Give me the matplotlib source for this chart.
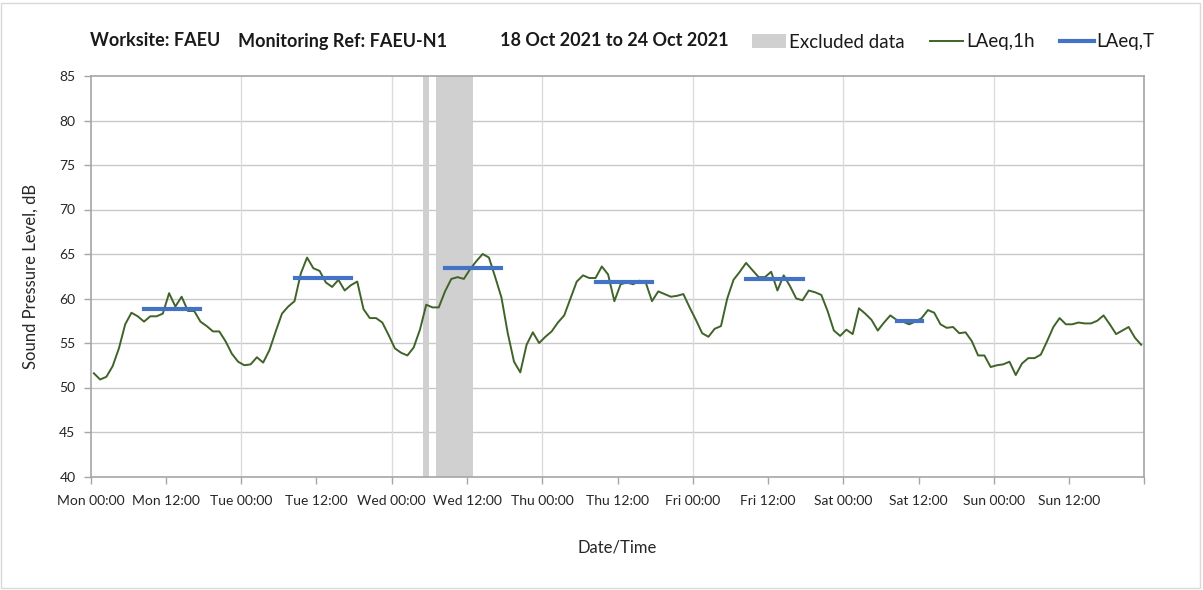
import matplotlib
matplotlib.use("Agg")
import matplotlib.pyplot as plt
from matplotlib.patches import Patch, Rectangle
from matplotlib.lines import Line2D
import numpy as np

plt.rcParams['font.family'] = ['Lato', 'DejaVu Sans']

# ---------------- data ----------------
title_parts = ["Worksite: FAEU", "Monitoring Ref: FAEU-N1", "18 Oct 2021 to 24 Oct 2021"]

# hourly LAeq,1h values, Mon 00:00 .. Sun 23:00
laeq_1h = [
    51.6, 50.9, 51.2, 52.4, 54.4, 57.1, 58.4, 58.0, 57.4, 58.0, 58.0, 58.3,
    60.6, 59.1, 60.2, 58.6, 58.6, 57.4, 56.9, 56.3, 56.3, 55.2, 53.8, 52.9,
    52.5, 52.6, 53.4, 52.8, 54.2, 56.3, 58.3, 59.1, 59.7, 62.8, 64.6, 63.4,
    63.1, 61.8, 61.3, 62.1, 60.9, 61.5, 61.9, 58.8, 57.8, 57.8, 57.3, 55.9,
    54.4, 53.9, 53.6, 54.5, 56.5, 59.3, 59.0, 59.0, 60.8, 62.2, 62.4, 62.2,
    63.3, 64.2, 65.0, 64.6, 62.4, 60.1, 56.1, 52.9, 51.7, 54.8, 56.2, 55.0,
    55.7, 56.3, 57.3, 58.1, 60.0, 61.9, 62.6, 62.3, 62.3, 63.6, 62.7, 59.7,
    61.6, 61.8, 61.6, 62.0, 61.8, 59.7, 60.8, 60.5, 60.2, 60.3, 60.5, 59.0,
    57.6, 56.1, 55.7, 56.6, 56.9, 60.0, 62.1, 63.0, 64.0, 63.2, 62.4, 62.4,
    63.0, 60.9, 62.6, 61.4, 60.0, 59.8, 60.9, 60.7, 60.4, 58.6, 56.4, 55.8,
    56.5, 56.0, 58.9, 58.3, 57.6, 56.4, 57.3, 58.1, 57.6, 57.4, 57.1, 57.4,
    57.8, 58.7, 58.4, 57.1, 56.7, 56.8, 56.1, 56.2, 55.2, 53.6, 53.6, 52.3,
    52.5, 52.6, 52.9, 51.4, 52.7, 53.3, 53.3, 53.7, 55.2, 56.8, 57.8, 57.1,
    57.1, 57.3, 57.2, 57.2, 57.5, 58.1, 57.1, 56.0, 56.4, 56.8, 55.6, 54.8,
]
hours = np.arange(len(laeq_1h))

# LAeq,T periods (first and last hourly interval in each period)
laeqT_start = [8, 32, 56, 80, 104, 128]
laeqT_end = [17, 41, 65, 89, 113, 132]
laeqT_value = [58.8, 62.3, 63.4, 61.8, 62.2, 57.5]

# excluded data periods (hours from Mon 00:00)
excluded_start = [53, 55]
excluded_end = [54, 61]

tick_hours = list(range(0, 169, 12))
tick_labels = ["Mon 00:00", "Mon 12:00", "Tue 00:00", "Tue 12:00", "Wed 00:00",
               "Wed 12:00", "Thu 00:00", "Thu 12:00", "Fri 00:00", "Fri 12:00",
               "Sat 00:00", "Sat 12:00", "Sun 00:00", "Sun 12:00", ""]

# ---------------- figure ----------------
W, H = 1203, 590
fig = plt.figure(figsize=(W / 100, H / 100), dpi=100)
ax = fig.add_axes([90.7 / W, 1 - 476.5 / H, (1144.3 - 90.7) / W, (476.5 - 76) / H])

green = '#3f6328'
blue = '#4472c4'
band = '#d0d0d0'
offset = 0.5

for s, e in zip(excluded_start, excluded_end):
    ax.axvspan(s, e, color=band, lw=0, zorder=1)

ax.plot(hours + offset, laeq_1h, color=green, lw=1.4, zorder=3)
for s, e, v in zip(laeqT_start, laeqT_end, laeqT_value):
    ax.plot([s + offset, e + offset], [v, v], color=blue, lw=3,
            solid_capstyle='projecting', zorder=4)

ax.set_xlim(0, 168)
ax.set_ylim(40, 85)
ax.set_yticks(range(40, 86, 5))
ax.set_xticks(tick_hours)
ax.set_xticklabels(tick_labels)
ax.tick_params(axis='both', labelsize=10, colors='#a6a6a6', labelcolor='#262626',
               length=5, width=1)
ax.tick_params(axis='x', pad=8)
ax.tick_params(axis='y', pad=6)

for y in range(45, 85, 5):
    ax.axhline(y, color='#c8c8c8', lw=1, zorder=0)
for x in range(24, 168, 24):
    ax.axvline(x, color='#dcdcdc', lw=1, zorder=0)

for sp in ax.spines.values():
    sp.set_color('#a6a6a6')
    sp.set_linewidth(1.2)

ax.set_ylabel("Sound Pressure Level, dB", fontsize=12, color='#262626', labelpad=15)
ax.set_xlabel("Date/Time", fontsize=12, color='#262626', labelpad=24)

# title
title_x = [90, 238, 500]
for tx, t in zip(title_x, title_parts):
    fig.text(tx / W, 1 - 41 / H, t, fontsize=13, fontweight='bold',
             va='center', ha='left', color='#1a1a1a')

# legend
handles = [Patch(facecolor=band, edgecolor='none'),
           Line2D([], [], color=green, lw=1.4),
           Line2D([], [], color=blue, lw=3)]
labels = ["Excluded data", "LAeq,1h", "LAeq,T"]
fig.legend(handles, labels, ncol=3, loc='center left',
           bbox_to_anchor=(752 / W, 1 - 42 / H), frameon=False,
           fontsize=13.5, handlelength=1.8, handleheight=0.8, handletextpad=0.15,
           columnspacing=1.35, borderaxespad=0, borderpad=0, labelcolor='#1a1a1a')

# outer border
fig.add_artist(Rectangle((1 / W, 2 / H), 1199 / W, 585 / H, transform=fig.transFigure,
                         fill=False, edgecolor='#d9d9d9', lw=1))

fig.savefig("out.png", dpi=100)
